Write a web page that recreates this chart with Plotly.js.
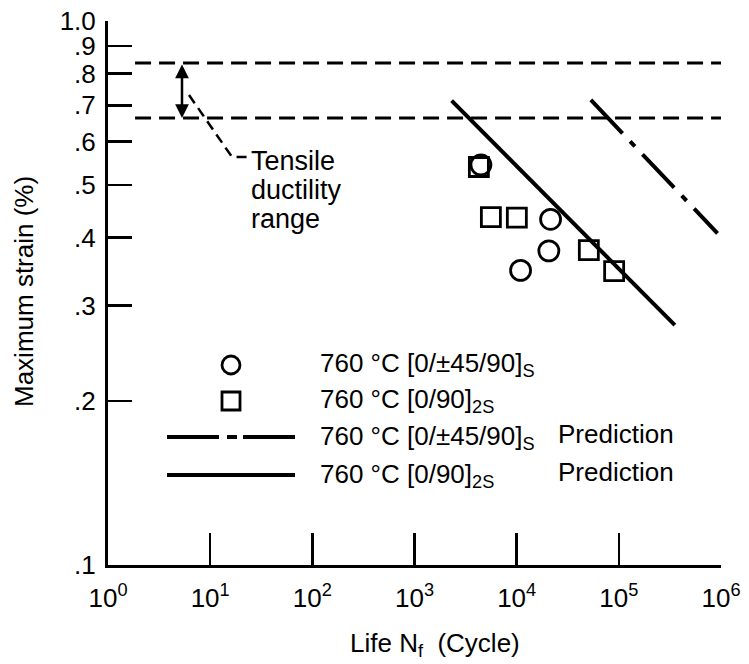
<!DOCTYPE html>
<html>
<head>
<meta charset="utf-8">
<script src="https://cdn.plot.ly/plotly-3.0.1.min.js"></script>
<style>html,body{margin:0;padding:0;background:#fff;}#chart{width:749px;height:664px;}</style>
</head>
<body>
<div id="chart"></div>
<script>
// ---- data ----
var circleN = [4465, 21470, 20650, 10920];
var circleStrain = [0.544, 0.432, 0.378, 0.348];
var squareN = [4266, 5593, 10040, 50850, 89960];
var squareStrain = [0.539, 0.436, 0.435, 0.379, 0.347];
var predSolidN = [2307, 353300];
var predSolidStrain = [0.714, 0.276];
var predDashDotN = [53230, 924500];
var predDashDotStrain = [0.716, 0.407];
var ductilityN = [1.84, 1000000];
var ductilityUpper = 0.837;
var ductilityLower = 0.663;
var arrowN = 5.3;
var xTickVals = [1, 10, 100, 1000, 10000, 100000, 1000000];
var xTickText = ['10<sup>0</sup>','10<sup>1</sup>','10<sup>2</sup>','10<sup>3</sup>','10<sup>4</sup>','10<sup>5</sup>','10<sup>6</sup>'];
var yTickVals = [0.1, 0.2, 0.3, 0.4, 0.5, 0.6, 0.7, 0.8, 0.9, 1.0];
var yTickText = ['.1','.2','.3','.4','.5','.6','.7','.8','.9','1.0'];
var legendLabels = ['760 °C [0/±45/90]<sub>S</sub>', '760 °C [0/90]<sub>2S</sub>', '760 °C [0/±45/90]<sub>S</sub>', '760 °C [0/90]<sub>2S</sub>'];
var predictionWord = 'Prediction';
var noteLines = ['Tensile', 'ductility', 'range'];

// ---- layout helpers (pixel -> paper) ----
var L = 108, T = 21, W = 613, H = 544;
function px(x) { return (x - L) / W; }
function py(y) { return (T + H - y) / H; }
var FONT = 'Liberation Sans, Arial, Helvetica, sans-serif';
var DASHDOT = '46px,11px,7px,11px';

var traces = [
  {x: ductilityN, y: [ductilityUpper, ductilityUpper], mode: 'lines', line: {color: '#000', width: 3, dash: '16px,8px'}, hoverinfo: 'skip'},
  {x: ductilityN, y: [ductilityLower, ductilityLower], mode: 'lines', line: {color: '#000', width: 3, dash: '16px,8px'}, hoverinfo: 'skip'},
  {x: predSolidN, y: predSolidStrain, mode: 'lines', line: {color: '#000', width: 4}},
  {x: predDashDotN, y: predDashDotStrain, mode: 'lines', line: {color: '#000', width: 4, dash: DASHDOT}},
  {x: squareN, y: squareStrain, mode: 'markers', marker: {symbol: 'square-open', size: 19, color: '#000', line: {width: 2.8, color: '#000'}}},
  {x: circleN, y: circleStrain, mode: 'markers', marker: {symbol: 'circle-open', size: 20, color: '#000', line: {width: 2.8, color: '#000'}}}
];

var annotations = [];
// double-headed arrow for the ductility range
annotations.push({x: Math.log10(arrowN), y: Math.log10(ductilityLower), xref: 'x', yref: 'y',
  ax: Math.log10(arrowN), ay: Math.log10(ductilityUpper), axref: 'x', ayref: 'y',
  showarrow: true, arrowside: 'end+start', arrowhead: 2, arrowsize: 1.1, arrowwidth: 2.5, arrowcolor: '#000', text: ''});
// note text
var noteY = [161, 190, 219];
noteLines.forEach(function (t, i) {
  annotations.push({x: px(249), y: py(noteY[i]), xref: 'paper', yref: 'paper', xanchor: 'left', yanchor: 'middle',
    text: t, showarrow: false, font: {family: FONT, size: 27, color: '#000'}});
});
// legend texts
var legY = [364, 400, 437, 475];
legendLabels.forEach(function (t, i) {
  annotations.push({x: px(318), y: py(legY[i]), xref: 'paper', yref: 'paper', xanchor: 'left', yanchor: 'middle',
    text: t, showarrow: false, font: {family: FONT, size: 26, color: '#000'}});
});
[2, 3].forEach(function (i) {
  annotations.push({x: px(556), y: py(legY[i] - 3), xref: 'paper', yref: 'paper', xanchor: 'left', yanchor: 'middle',
    text: predictionWord, showarrow: false, font: {family: FONT, size: 26, color: '#000'}});
});
// axis titles
annotations.push({x: px(435), y: py(644), xref: 'paper', yref: 'paper', xanchor: 'center', yanchor: 'middle',
  text: 'Life N<sub>f</sub>  (Cycle)', showarrow: false, font: {family: FONT, size: 26, color: '#000'}});
annotations.push({x: px(24), y: py(292), xref: 'paper', yref: 'paper', xanchor: 'center', yanchor: 'middle',
  text: 'Maximum strain (%)', textangle: -90, showarrow: false, font: {family: FONT, size: 26, color: '#000'}});

var shapes = [];
// leader line from the arrow to the note
shapes.push({type: 'path', xref: 'paper', yref: 'paper',
  path: 'M ' + px(189) + ' ' + py(95) + ' L ' + px(232) + ' ' + py(157) + ' L ' + px(247) + ' ' + py(157),
  line: {color: '#000', width: 2.5, dash: '10px,6px'}});
// legend samples
shapes.push({type: 'circle', xref: 'paper', yref: 'paper', xsizemode: 'pixel', ysizemode: 'pixel',
  xanchor: px(231), yanchor: py(365), x0: -9, x1: 9, y0: -9, y1: 9, line: {color: '#000', width: 2.8}});
shapes.push({type: 'rect', xref: 'paper', yref: 'paper', xsizemode: 'pixel', ysizemode: 'pixel',
  xanchor: px(231), yanchor: py(401), x0: -9, x1: 9, y0: -9, y1: 9, line: {color: '#000', width: 2.8}});
shapes.push({type: 'line', xref: 'paper', yref: 'paper', x0: px(167), x1: px(295), y0: py(437), y1: py(437),
  line: {color: '#000', width: 4, dash: '52px,8px,10px,6px'}});
shapes.push({type: 'line', xref: 'paper', yref: 'paper', x0: px(167), x1: px(295), y0: py(475), y1: py(475),
  line: {color: '#000', width: 4}});

var layout = {
  width: 749, height: 664,
  margin: {l: L, r: 749 - L - W, t: T, b: 664 - T - H, pad: 0},
  paper_bgcolor: '#fff', plot_bgcolor: '#fff',
  showlegend: false,
  font: {family: FONT, color: '#000', size: 26},
  xaxis: {type: 'log', range: [0, 6], showgrid: false, zeroline: false, showline: true, linecolor: '#000', linewidth: 3,
    ticks: 'inside', ticklen: 32, tickwidth: 2.5, tickcolor: '#000', tickvals: xTickVals, ticktext: xTickText,
    tickfont: {family: FONT, size: 26, color: '#000'}, ticklabelstandoff: 8},
  yaxis: {type: 'log', range: [-1, 0], showgrid: false, zeroline: false, showline: true, linecolor: '#000', linewidth: 3,
    ticks: 'inside', ticklen: 24, tickwidth: 2.5, tickcolor: '#000', tickvals: yTickVals, ticktext: yTickText,
    tickfont: {family: FONT, size: 26, color: '#000'}, ticklabelstandoff: 4},
  annotations: annotations,
  shapes: shapes
};

Plotly.newPlot('chart', traces, layout, {displayModeBar: false, staticPlot: true});
</script>
</body>
</html>
